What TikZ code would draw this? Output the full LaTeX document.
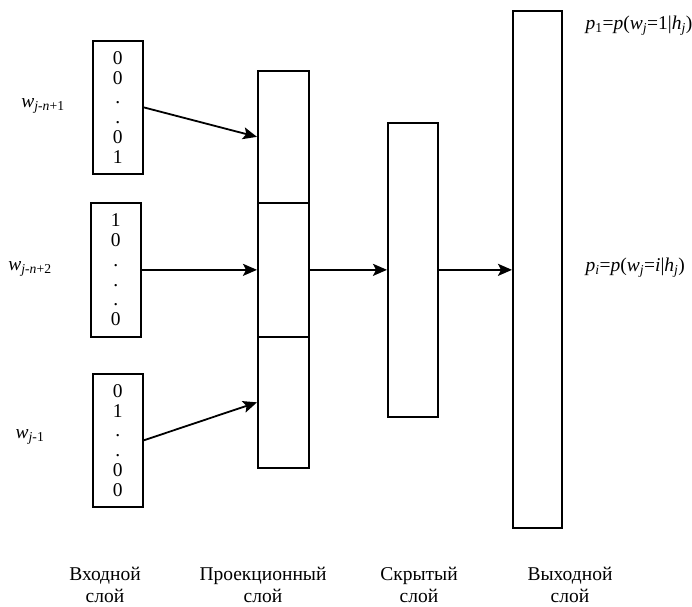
\documentclass[tikz,border=0pt]{standalone}
\usepackage{fontspec}
\setmainfont{Liberation Serif}
\usetikzlibrary{arrows.meta}

\begin{document}
\begin{tikzpicture}[x=1pt,y=-1pt,
  font=\fontsize{19.5}{21}\selectfont,
  cell/.style={draw, line width=1.7pt, inner sep=0pt, anchor=north west},
  vec/.style={cell, minimum width=50pt, minimum height=133pt, align=center,
    font=\fontsize{19.5}{19.7}\selectfont},
  link/.style={line width=1.8pt, -{Stealth[length=14pt,width=12pt,inset=3pt]}},
  caption/.style={align=center, inner sep=0pt, font=\fontsize{19.5}{22}\selectfont}]
  \useasboundingbox (0,0) rectangle (692,606);

  % input one-hot vectors
  \node[vec] (in1) at (92,40)  {0\\0\\.\\.\\0\\1};
  \node[vec, minimum height=134pt] (in2) at (90,202) {1\\0\\.\\.\\.\\0};
  \node[vec] (in3) at (92,373) {0\\1\\.\\.\\0\\0};

  % projection layer, three stacked segments
  \node[cell, minimum width=51pt, minimum height=132pt] (pr1) at (257,70)  {};
  \node[cell, minimum width=51pt, minimum height=134pt] (pr2) at (257,202) {};
  \node[cell, minimum width=51pt, minimum height=131pt] (pr3) at (257,336) {};

  % hidden and output layers
  \node[cell, minimum width=50pt, minimum height=294pt] (hid) at (387,122) {};
  \node[cell, minimum width=49pt, minimum height=517pt] (out) at (512,10)  {};

  % word labels
  \node (w1) at (43,106) {\textit{w}\textsubscript{\textit{j}-\textit{n}+1}};
  \node (w2) at (30,269) {\textit{w}\textsubscript{\textit{j}-\textit{n}+2}};
  \node (w3) at (30,437) {\textit{w}\textsubscript{\textit{j}-1}};

  % output probabilities
  \node[anchor=west] (p1) at (582,26)
    {\textit{p}\textsubscript{1}=\textit{p}(\textit{w}\textsubscript{\textit{j}}=1|\textit{h}\textsubscript{\textit{j}})};
  \node[anchor=west] (pi) at (582,268)
    {\textit{p}\textsubscript{\textit{i}}=\textit{p}(\textit{w}\textsubscript{\textit{j}}=\textit{i}|\textit{h}\textsubscript{\textit{j}})};

  % connections
  \draw[link] (in1.east) -- (pr1.west);
  \draw[link] (in2.east) -- (pr2.west);
  \draw[link] (in3.east) -- (pr3.west);
  \draw[link] (pr2.east) -- (pr2.east -| hid.west);
  \draw[link] (hid.east) -- (hid.east -| out.west);

  % layer captions
  \node[caption] (c1) at (105,585) {Входной\\слой};
  \node[caption] (c2) at (263,585) {Проекционный\\слой};
  \node[caption] (c3) at (419,585) {Скрытый\\слой};
  \node[caption] (c4) at (570,585) {Выходной\\слой};
\end{tikzpicture}
\end{document}
